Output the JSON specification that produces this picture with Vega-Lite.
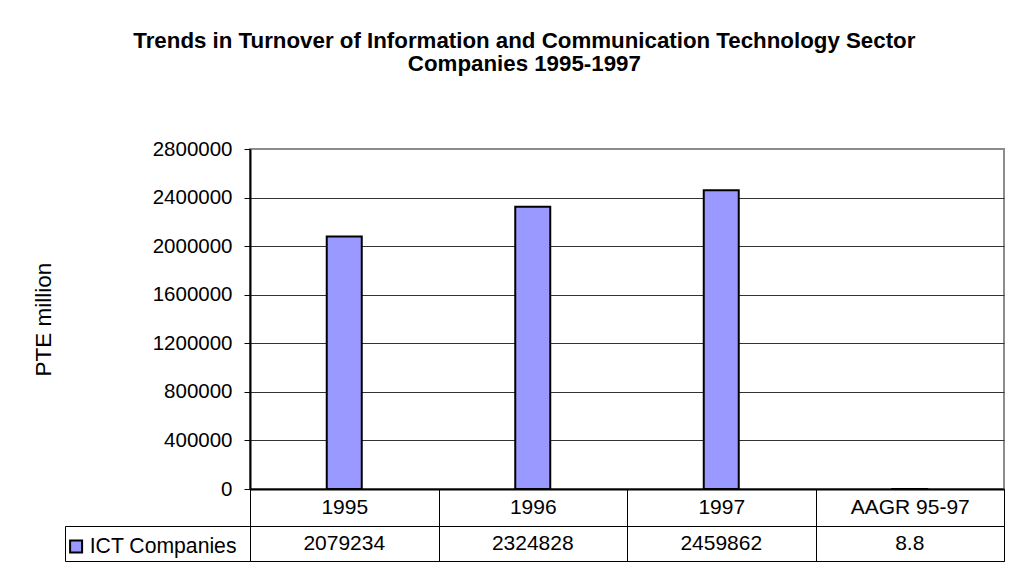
{
  "$schema": "https://vega.github.io/schema/vega-lite/v6.json",
  "autosize": {"type": "pad"},
  "padding": {"left": 31, "top": 29, "right": 5, "bottom": 5},
  "background": "white",
  "title": {
    "text": ["Trends in Turnover of Information and Communication Technology Sector", "Companies 1995-1997"],
    "anchor": "middle",
    "offset": 63,
    "dx": 6,
    "font": "Liberation Sans",
    "fontSize": 22.3,
    "fontWeight": "bold",
    "color": "black",
    "lineHeight": 23
  },
  "data": {
    "values": [
      {"cat": "1995", "value": 2079234, "series": "ICT Companies"},
      {"cat": "1996", "value": 2324828, "series": "ICT Companies"},
      {"cat": "1997", "value": 2459862, "series": "ICT Companies"},
      {"cat": "AAGR 95-97", "value": 8.8, "series": "ICT Companies"}
    ]
  },
  "bounds": "flush",
  "spacing": 37,
  "resolve": {"scale": {"x": "independent", "y": "independent"}},
  "vconcat": [
    {
      "width": 754,
      "height": 340,
      "view": {"stroke": "#8c8c8c", "strokeWidth": 2},
      "mark": {"type": "bar", "size": 35, "stroke": "black", "strokeWidth": 2},
      "encoding": {
        "x": {
          "field": "cat",
          "type": "nominal",
          "scale": {"domain": ["1995", "1996", "1997", "AAGR 95-97"], "paddingInner": 0, "paddingOuter": 0},
          "axis": {
            "orient": "bottom",
            "title": null,
            "domain": true,
            "domainColor": "black",
            "domainWidth": 2,
            "ticks": true,
            "tickBand": "extent",
            "tickSize": 37,
            "tickColor": "black",
            "tickWidth": 1,
            "labelAngle": 0,
            "labelBaseline": "middle",
            "labelPadding": -18.5,
            "labelFontSize": 21,
            "grid": false
          }
        },
        "y": {
          "field": "value",
          "type": "quantitative",
          "scale": {"domain": [0, 2800000], "nice": false, "zero": true},
          "axis": {
            "title": "PTE million",
            "values": [0, 400000, 800000, 1200000, 1600000, 2000000, 2400000, 2800000],
            "format": "d",
            "grid": true,
            "gridColor": {"condition": {"test": "datum.value >= 2800000", "value": "#8c8c8c"}, "value": "#333333"},
            "gridWidth": 1,
            "domainColor": "black",
            "domainWidth": 2,
            "tickColor": "black",
            "tickSize": 6,
            "labelPadding": 12,
            "labelFontSize": 20.5,
            "titlePadding": 97,
            "titleFontSize": 22.5,
            "titleFontWeight": "normal"
          }
        },
        "color": {
          "field": "series",
          "type": "nominal",
          "scale": {"range": ["#9999FF"]},
          "legend": {
            "title": null,
            "orient": "none",
            "legendX": -184.5,
            "legendY": 387,
            "symbolType": "square",
            "symbolSize": 144,
            "symbolStrokeColor": "black",
            "symbolStrokeWidth": 2,
            "symbolOpacity": 1,
            "labelFontSize": 21.2,
            "labelFont": "Liberation Sans",
            "labelColor": "black",
            "labelOffset": 3,
            "labelLimit": 300,
            "padding": 0
          }
        }
      }
    },
    {
      "width": 754,
      "height": 35,
      "view": {"stroke": "black", "strokeWidth": 1},
      "mark": {"type": "text", "font": "Liberation Sans", "fontSize": 21, "color": "black", "align": "center", "baseline": "middle"},
      "encoding": {
        "x": {
          "field": "cat",
          "type": "nominal",
          "scale": {"domain": ["1995", "1996", "1997", "AAGR 95-97"], "paddingInner": 0, "paddingOuter": 0},
          "axis": {
            "orient": "top",
            "title": null,
            "labels": false,
            "ticks": false,
            "domain": false,
            "grid": true,
            "tickBand": "extent",
            "gridColor": "black",
            "gridWidth": 1
          }
        },
        "y": {
          "field": "series",
          "type": "nominal",
          "scale": {"paddingInner": 0, "paddingOuter": 0},
          "axis": {
            "orient": "left",
            "offset": 185,
            "title": null,
            "labels": false,
            "domain": true,
            "domainColor": "black",
            "domainWidth": 1,
            "ticks": true,
            "tickBand": "extent",
            "tickSize": -185,
            "tickColor": "black",
            "tickWidth": 1,
            "grid": false
          }
        },
        "text": {"field": "value", "type": "quantitative", "format": ".10~g"}
      }
    }
  ],
  "config": {
    "font": "Liberation Sans",
    "axis": {"labelFont": "Liberation Sans", "labelColor": "black", "titleFont": "Liberation Sans", "titleColor": "black"},
    "legend": {"labelFont": "Liberation Sans"}
  }
}
